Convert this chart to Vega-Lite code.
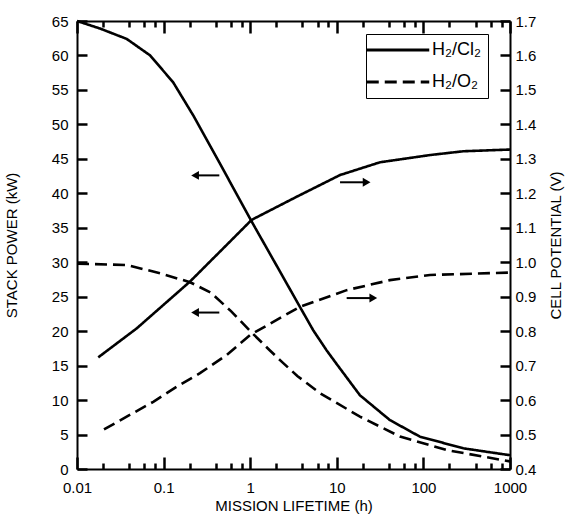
{
  "$schema": "https://vega.github.io/schema/vega-lite/v6.json",
  "width": 433,
  "height": 448,
  "autosize": {"type": "none"},
  "padding": {"left": 77, "top": 21, "right": 60, "bottom": 55},
  "background": "white",
  "config": {
    "view": {"stroke": null},
    "font": "Liberation Sans",
    "axis": {
      "domainColor": "black",
      "domainWidth": 2,
      "labelColor": "black",
      "labelFontSize": 15,
      "labelFont": "Liberation Sans",
      "titleColor": "black",
      "titleFontSize": 15,
      "titleFont": "Liberation Sans",
      "titleFontWeight": "normal",
      "grid": false
    }
  },
  "datasets": {
    "power": [
      {"series": "H₂/Cl₂", "t": 0.01, "kw": 65.0},
      {"series": "H₂/Cl₂", "t": 0.0185, "kw": 63.9},
      {"series": "H₂/Cl₂", "t": 0.0375, "kw": 62.4},
      {"series": "H₂/Cl₂", "t": 0.07, "kw": 60.0},
      {"series": "H₂/Cl₂", "t": 0.129, "kw": 56.1},
      {"series": "H₂/Cl₂", "t": 0.22, "kw": 51.3},
      {"series": "H₂/Cl₂", "t": 0.448, "kw": 44.3},
      {"series": "H₂/Cl₂", "t": 1.04, "kw": 35.9},
      {"series": "H₂/Cl₂", "t": 2.0, "kw": 29.6},
      {"series": "H₂/Cl₂", "t": 3.76, "kw": 23.5},
      {"series": "H₂/Cl₂", "t": 5.36, "kw": 20.1},
      {"series": "H₂/Cl₂", "t": 7.64, "kw": 17.2},
      {"series": "H₂/Cl₂", "t": 10.0, "kw": 15.2},
      {"series": "H₂/Cl₂", "t": 18.5, "kw": 10.7},
      {"series": "H₂/Cl₂", "t": 41, "kw": 7.1},
      {"series": "H₂/Cl₂", "t": 91, "kw": 4.7},
      {"series": "H₂/Cl₂", "t": 289, "kw": 3.0},
      {"series": "H₂/Cl₂", "t": 1000, "kw": 2.0},
      {"series": "H₂/O₂", "t": 0.01, "kw": 29.8},
      {"series": "H₂/O₂", "t": 0.0375, "kw": 29.6},
      {"series": "H₂/O₂", "t": 0.0908, "kw": 28.4},
      {"series": "H₂/O₂", "t": 0.202, "kw": 27.1},
      {"series": "H₂/O₂", "t": 0.35, "kw": 25.6},
      {"series": "H₂/O₂", "t": 0.6, "kw": 22.9},
      {"series": "H₂/O₂", "t": 1.04, "kw": 19.8},
      {"series": "H₂/O₂", "t": 1.69, "kw": 17.2},
      {"series": "H₂/O₂", "t": 2.21, "kw": 15.8},
      {"series": "H₂/O₂", "t": 3.5, "kw": 13.5},
      {"series": "H₂/O₂", "t": 6.4, "kw": 11.0},
      {"series": "H₂/O₂", "t": 18.5, "kw": 7.6},
      {"series": "H₂/O₂", "t": 53.7, "kw": 4.7},
      {"series": "H₂/O₂", "t": 186, "kw": 2.75},
      {"series": "H₂/O₂", "t": 1000, "kw": 1.1}
    ],
    "potential": [
      {"series": "H₂/Cl₂", "t": 0.0176, "v": 0.724},
      {"series": "H₂/Cl₂", "t": 0.0489, "v": 0.808},
      {"series": "H₂/Cl₂", "t": 0.202, "v": 0.944},
      {"series": "H₂/Cl₂", "t": 0.585, "v": 1.06},
      {"series": "H₂/Cl₂", "t": 1.04, "v": 1.123},
      {"series": "H₂/Cl₂", "t": 3.44, "v": 1.19},
      {"series": "H₂/Cl₂", "t": 10.9, "v": 1.253},
      {"series": "H₂/Cl₂", "t": 31.5, "v": 1.29},
      {"series": "H₂/Cl₂", "t": 119, "v": 1.311},
      {"series": "H₂/Cl₂", "t": 289, "v": 1.322},
      {"series": "H₂/Cl₂", "t": 1000, "v": 1.327},
      {"series": "H₂/O₂", "t": 0.0205, "v": 0.515},
      {"series": "H₂/O₂", "t": 0.076, "v": 0.595},
      {"series": "H₂/O₂", "t": 0.142, "v": 0.639},
      {"series": "H₂/O₂", "t": 0.263, "v": 0.678},
      {"series": "H₂/O₂", "t": 0.536, "v": 0.731},
      {"series": "H₂/O₂", "t": 1.0, "v": 0.789},
      {"series": "H₂/O₂", "t": 3.76, "v": 0.871},
      {"series": "H₂/O₂", "t": 13, "v": 0.919},
      {"series": "H₂/O₂", "t": 41, "v": 0.948},
      {"series": "H₂/O₂", "t": 119, "v": 0.963},
      {"series": "H₂/O₂", "t": 1000, "v": 0.97}
    ],
    "arrows": [
      {"t": 0.231, "t2": 0.44, "kw": 42.6, "dir": "left", "head": 0.231},
      {"t": 0.231, "t2": 0.44, "kw": 22.7, "dir": "left", "head": 0.231},
      {"t": 10.9, "t2": 22.1, "kw": 41.6, "dir": "right", "head": 22.1},
      {"t": 13.0, "t2": 26.4, "kw": 24.8, "dir": "right", "head": 26.4}
    ]
  },
  "layer": [
    {
      "data": {"name": "power"},
      "mark": {"type": "line", "stroke": "black", "strokeWidth": 2.6},
      "encoding": {
        "x": {
          "field": "t",
          "type": "quantitative",
          "scale": {"type": "log", "domain": [0.01, 1000], "nice": false},
          "axis": {
            "orient": "bottom",
            "title": "MISSION LIFETIME (h)",
            "titlePadding": 3,
            "values": [0.01, 0.1, 1, 10, 100, 1000],
            "format": "~g",
            "ticks": false,
            "tickSize": 0,
            "labelPadding": 11,
            "labelFlush": false,
            "labelOverlap": false
          }
        },
        "y": {
          "field": "kw",
          "type": "quantitative",
          "scale": {"domain": [0, 65], "nice": false},
          "axis": {
            "orient": "left",
            "title": "STACK POWER (kW)",
            "values": [0, 5, 10, 15, 20, 25, 30, 35, 40, 45, 50, 55, 60, 65],
            "ticks": false,
            "tickSize": 0,
            "labelPadding": 9,
            "titlePadding": 32
          }
        },
        "strokeDash": {
          "field": "series",
          "type": "nominal",
          "scale": {"domain": ["H₂/Cl₂", "H₂/O₂"], "range": [[1, 0], [12, 6]]},
          "legend": {
            "title": null,
            "orient": "none",
            "legendX": 289,
            "legendY": 13,
            "strokeColor": "black",
            "padding": 7,
            "rowPadding": 14,
            "symbolType": "M-6.25,0H6.25",
            "symbolSize": 100,
            "symbolOffset": 16,
            "symbolStrokeWidth": 3,
            "symbolStrokeColor": "black",
            "labelOffset": 25,
            "labelFontSize": 18,
            "labelColor": "black"
          }
        }
      }
    },
    {
      "data": {"name": "arrows"},
      "mark": {"type": "rule", "stroke": "black", "strokeWidth": 2},
      "encoding": {
        "x": {
          "field": "t",
          "type": "quantitative",
          "axis": {
            "orient": "top",
            "offset": -448,
            "title": null,
            "labels": false,
            "domain": false,
            "ticks": true,
            "tickColor": "black",
            "tickWidth": 2.5,
            "tickOpacity": 1,
            "values": [0.01, 0.02, 0.04, 0.06, 0.08, 0.1, 0.2, 0.4, 0.6, 0.8, 1, 2, 4, 6, 8, 10, 20, 40, 60, 80, 100, 200, 400, 600, 800, 1000],
            "tickSize": {"condition": {"test": "abs(log(datum.value)/LN10 - round(log(datum.value)/LN10)) < 0.01", "value": 12}, "value": 6}
          }
        },
        "x2": {"field": "t2"},
        "y": {
          "field": "kw",
          "type": "quantitative",
          "scale": {"domain": [0, 65], "nice": false},
          "axis": {
            "orient": "right",
            "offset": -433,
            "title": null,
            "labels": false,
            "domain": false,
            "ticks": true,
            "tickColor": "black",
            "tickWidth": 2.5,
            "tickOpacity": 1,
            "values": [0, 5, 10, 15, 20, 25, 30, 35, 40, 45, 50, 55, 60, 65],
            "tickSize": 10
          }
        }
      }
    },
    {
      "data": {"name": "arrows"},
      "mark": {"type": "point", "filled": true, "fill": "black", "stroke": null, "size": 80, "opacity": 1},
      "encoding": {
        "x": {
          "field": "head",
          "type": "quantitative",
          "axis": {
            "orient": "bottom",
            "offset": -448,
            "title": null,
            "labels": false,
            "domain": false,
            "ticks": true,
            "tickColor": "black",
            "tickWidth": 2.5,
            "tickOpacity": 1,
            "values": [0.01, 0.02, 0.04, 0.06, 0.08, 0.1, 0.2, 0.4, 0.6, 0.8, 1, 2, 4, 6, 8, 10, 20, 40, 60, 80, 100, 200, 400, 600, 800, 1000],
            "tickSize": {"condition": {"test": "abs(log(datum.value)/LN10 - round(log(datum.value)/LN10)) < 0.01", "value": 12}, "value": 6}
          }
        },
        "y": {
          "field": "kw",
          "type": "quantitative",
          "scale": {"domain": [0, 65], "nice": false},
          "axis": {
            "orient": "left",
            "offset": -433,
            "title": null,
            "labels": false,
            "domain": false,
            "ticks": true,
            "tickColor": "black",
            "tickWidth": 2.5,
            "tickOpacity": 1,
            "values": [0, 5, 10, 15, 20, 25, 30, 35, 40, 45, 50, 55, 60, 65],
            "tickSize": 10
          }
        },
        "shape": {
          "field": "dir",
          "type": "nominal",
          "scale": {"domain": ["left", "right"], "range": ["triangle-left", "triangle-right"]},
          "legend": null
        }
      }
    },
    {
      "data": {"name": "potential"},
      "mark": {"type": "line", "stroke": "black", "strokeWidth": 2.6},
      "encoding": {
        "x": {
          "field": "t",
          "type": "quantitative",
          "axis": {
            "orient": "top",
            "title": null,
            "labels": false,
            "ticks": false,
            "values": [0.01, 0.1, 1, 10, 100, 1000]
          }
        },
        "y": {
          "field": "v",
          "type": "quantitative",
          "scale": {"domain": [0.4, 1.7], "nice": false},
          "axis": {
            "orient": "right",
            "title": "CELL POTENTIAL (V)",
            "titleAngle": 270,
            "values": [0.4, 0.5, 0.6, 0.7, 0.8, 0.9, 1.0, 1.1, 1.2, 1.3, 1.4, 1.5, 1.6, 1.7],
            "format": ".1f",
            "ticks": false,
            "tickSize": 0,
            "labelPadding": 5,
            "titlePadding": 28
          }
        },
        "strokeDash": {"field": "series", "type": "nominal"}
      }
    }
  ],
  "resolve": {"scale": {"y": "independent"}, "axis": {"x": "independent", "y": "independent"}}
}
